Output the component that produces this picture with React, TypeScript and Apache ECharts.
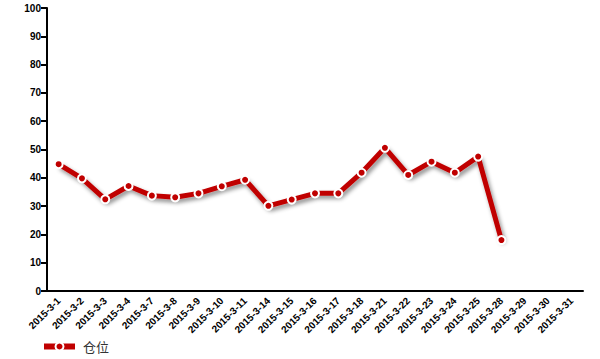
import React, { useEffect, useRef } from "react";
import * as echarts from "echarts";

const categories = [
  "2015-3-1", "2015-3-2", "2015-3-3", "2015-3-4", "2015-3-7", "2015-3-8",
  "2015-3-9", "2015-3-10", "2015-3-11", "2015-3-14", "2015-3-15", "2015-3-16",
  "2015-3-17", "2015-3-18", "2015-3-21", "2015-3-22", "2015-3-23", "2015-3-24",
  "2015-3-25", "2015-3-28", "2015-3-29", "2015-3-30", "2015-3-31",
];

const positionValues: (number | null)[] = [
  44.8, 39.8, 32.4, 37.1, 33.7, 33.1, 34.5, 37, 39.3, 30.1, 32.3, 34.5,
  34.5, 41.8, 50.6, 41, 45.7, 41.8, 47.5, 18, null, null, null,
];

const seriesName = "仓位";

export default function App() {
  const ref = useRef<HTMLDivElement>(null);
  useEffect(() => {
    if (!ref.current) return;
    const chart = echarts.init(ref.current, null, { renderer: "svg" });
    const font = "Liberation Sans, Arial, sans-serif";
    chart.setOption({
      animation: false,
      backgroundColor: "#ffffff",
      grid: { left: 47, right: 17, top: 8, bottom: 68, containLabel: false },
      legend: {
        show: true,
        left: 36,
        bottom: 1,
        itemWidth: 31,
        itemHeight: 10,
        itemGap: 6,
        data: [seriesName],
        lineStyle: { width: 6 },
        textStyle: { color: "#333", fontSize: 13, fontFamily: "Noto Sans CJK SC", padding: [0, 0, 0, 3] },
      },
      xAxis: {
        type: "category",
        data: categories,
        boundaryGap: true,
        axisLine: { lineStyle: { color: "#000", width: 2 } },
        axisTick: { length: 6, lineStyle: { color: "#000", width: 2 } },
        axisLabel: {
          rotate: 45,
          interval: 0,
          color: "#000",
          fontWeight: "bold",
          fontSize: 10,
          fontFamily: font,
          margin: 8,
        },
        splitLine: { show: false },
      },
      yAxis: {
        type: "value",
        min: 0,
        max: 100,
        interval: 10,
        axisLine: { show: true, lineStyle: { color: "#000", width: 2 } },
        axisTick: { show: true, length: 6, lineStyle: { color: "#000", width: 2 } },
        axisLabel: {
          color: "#000",
          fontWeight: "bold",
          fontSize: 10,
          fontFamily: font,
          margin: 6,
        },
        splitLine: { show: false },
      },
      series: [
        {
          name: seriesName,
          type: "line",
          data: positionValues,
          symbol: "circle",
          symbolSize: 8,
          showAllSymbol: true,
          lineStyle: {
            color: "#c00000",
            width: 5,
            shadowColor: "rgba(0,0,0,0.45)",
            shadowBlur: 4,
            shadowOffsetX: 2,
            shadowOffsetY: 3,
          },
          itemStyle: {
            color: "#c00000",
            borderColor: "#ffffff",
            borderWidth: 2,
          },
        },
      ],
    });
    return () => chart.dispose();
  }, []);
  return <div ref={ref} style={{ width: 600, height: 359, position: "absolute", left: 0, top: 0 }} />;
}
